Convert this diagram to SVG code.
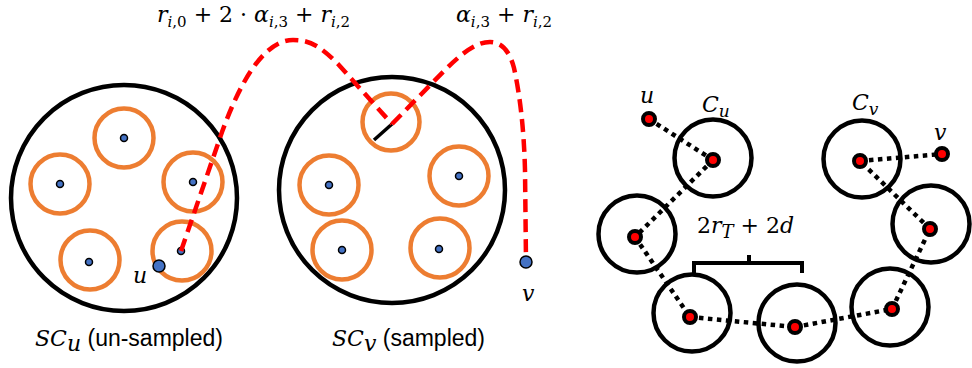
<svg xmlns="http://www.w3.org/2000/svg" width="972" height="368" viewBox="0 0 972 368">
<style>
.big{fill:none;stroke:#000;stroke-width:4.5}
.org{fill:none;stroke:#ED7D31;stroke-width:4.5}
.bd{fill:#4472C4;stroke:#000;stroke-width:1.5}
.rd{fill:#FF0000;stroke:#000;stroke-width:4}
.cc{fill:none;stroke:#000;stroke-width:4.5}
.red{fill:none;stroke:#FF0000;stroke-width:4.5;stroke-dasharray:13 7}
.dot{fill:none;stroke:#000;stroke-width:4.5;stroke-dasharray:4.5 4.5}
.m{font-family:"DejaVu Serif","Liberation Serif",serif;font-size:22px;fill:#000}
.i{font-style:italic}
.s{font-family:"Liberation Sans","DejaVu Sans",sans-serif;font-size:23px;fill:#000}
</style>
<rect width="972" height="368" fill="#fff"/>
<g id="SCu">
<circle class="big" cx="124" cy="198" r="113"/>
<circle class="org" cx="124" cy="138" r="29.5"/>
<circle class="bd" cx="124" cy="138" r="3.5"/>
<circle class="org" cx="60" cy="184" r="29.5"/>
<circle class="bd" cx="60" cy="184" r="3.5"/>
<circle class="org" cx="193" cy="182" r="29.5"/>
<circle class="bd" cx="193" cy="182" r="3.5"/>
<circle class="org" cx="90" cy="260" r="29.5"/>
<circle class="bd" cx="89" cy="262" r="3.5"/>
<circle class="org" cx="182" cy="251" r="29.5"/>
<circle class="bd" cx="181" cy="251" r="3.5"/>
</g>
<g id="SCv">
<circle class="big" cx="392" cy="190" r="113"/>
<circle class="org" cx="391" cy="122" r="28.5"/>
<line x1="392" y1="124" x2="374" y2="140" stroke="#000" stroke-width="3.5"/>
<circle class="org" cx="459" cy="176" r="29.5"/>
<circle class="bd" cx="459" cy="176" r="3.5"/>
<circle class="org" cx="329" cy="185" r="29.5"/>
<circle class="bd" cx="329" cy="185" r="3.5"/>
<circle class="org" cx="342" cy="250" r="29.5"/>
<circle class="bd" cx="342" cy="250" r="3.5"/>
<circle class="org" cx="440" cy="248" r="29.5"/>
<circle class="bd" cx="439" cy="249" r="3.5"/>
</g>
<g id="connectors">
<path class="red" d="M181,251 L222,132 C238,88 262,40 293,40 C310,40 320,46 338,64 L392,124"/>
<path class="red" d="M392,124 L445,70 C465,50 478,42 490,42 C502,42 510,52 514,68 C520,95 524,130 525,170 L526,262"/>
<path class="dot" d="M649,119 L713,160"/>
<path class="dot" d="M713,160 L635,237"/>
<path class="dot" d="M635,237 L690,317"/>
<path class="dot" d="M690,317 L795,327"/>
<path class="dot" d="M795,327 L892,309"/>
<path class="dot" d="M892,309 L930,229"/>
<path class="dot" d="M930,229 L860,161"/>
<path class="dot" d="M860,161 L942,154"/>
</g>
<g id="u-left"><circle class="bd" cx="159" cy="266" r="6"/><text class="m i" x="133" y="283" font-size="26">u</text></g>
<g id="v-left"><circle class="bd" cx="526" cy="262" r="6"/><text class="m i" x="522" y="301" font-size="26">v</text></g>
<g id="Cu"><circle class="cc" cx="713" cy="158" r="38.5"/><circle class="rd" cx="713" cy="160" r="6"/></g>
<g id="Cv"><circle class="cc" cx="862" cy="159" r="38.5"/><circle class="rd" cx="860" cy="161" r="6"/></g>
<g id="n1"><circle class="cc" cx="637" cy="234" r="38.5"/><circle class="rd" cx="635" cy="237" r="6"/></g>
<g id="n2"><circle class="cc" cx="692" cy="313" r="38.5"/><circle class="rd" cx="690" cy="317" r="6"/></g>
<g id="n3"><circle class="cc" cx="797" cy="323" r="38.5"/><circle class="rd" cx="795" cy="327" r="6"/></g>
<g id="n4"><circle class="cc" cx="890" cy="307" r="38.5"/><circle class="rd" cx="892" cy="309" r="6"/></g>
<g id="n5"><circle class="cc" cx="931" cy="224" r="38.5"/><circle class="rd" cx="930" cy="229" r="6"/></g>
<g id="u-right"><circle class="rd" cx="649" cy="119" r="6"/><text class="m i" x="640" y="103" font-size="26">u</text></g>
<g id="v-right"><circle class="rd" cx="942" cy="154" r="6"/><text class="m i" x="934" y="140" font-size="26">v</text></g>
<g id="brace"><path d="M694,273 L694,263 L802,263 L802,273 M749,263 L749,255" fill="none" stroke="#000" stroke-width="4"/></g>
<g id="labels">
<text class="m" x="157" y="22"><tspan class="i">r</tspan><tspan class="i" font-size="15" dy="5">i</tspan><tspan font-size="15">,0</tspan><tspan dy="-5"> + 2 · </tspan><tspan class="i">α</tspan><tspan class="i" font-size="15" dy="5">i</tspan><tspan font-size="15">,3</tspan><tspan dy="-5"> + </tspan><tspan class="i">r</tspan><tspan class="i" font-size="15" dy="5">i</tspan><tspan font-size="15">,2</tspan></text>
<text class="m" x="456" y="22"><tspan class="i">α</tspan><tspan class="i" font-size="15" dy="5">i</tspan><tspan font-size="15">,3</tspan><tspan dy="-5"> + </tspan><tspan class="i">r</tspan><tspan class="i" font-size="15" dy="5">i</tspan><tspan font-size="15">,2</tspan></text>
<text class="m" x="697" y="233" font-size="27">2<tspan class="i">r</tspan><tspan class="i" font-size="18" dy="5">T</tspan><tspan dy="-5"> + 2</tspan><tspan class="i">d</tspan></text>
<text class="m i" x="702" y="112" font-size="25">C<tspan font-size="17" dy="5">u</tspan></text>
<text class="m i" x="852" y="110" font-size="25">C<tspan font-size="17" dy="5">v</tspan></text>
<text x="35" y="346"><tspan class="m i" font-size="23">SC</tspan><tspan class="m i" font-size="16" dy="5">u</tspan><tspan class="s" dy="-5"> (un-sampled)</tspan></text>
<text x="332" y="346"><tspan class="m i" font-size="23">SC</tspan><tspan class="m i" font-size="16" dy="5">v</tspan><tspan class="s" dy="-5"> (sampled)</tspan></text>
</g>
</svg>
